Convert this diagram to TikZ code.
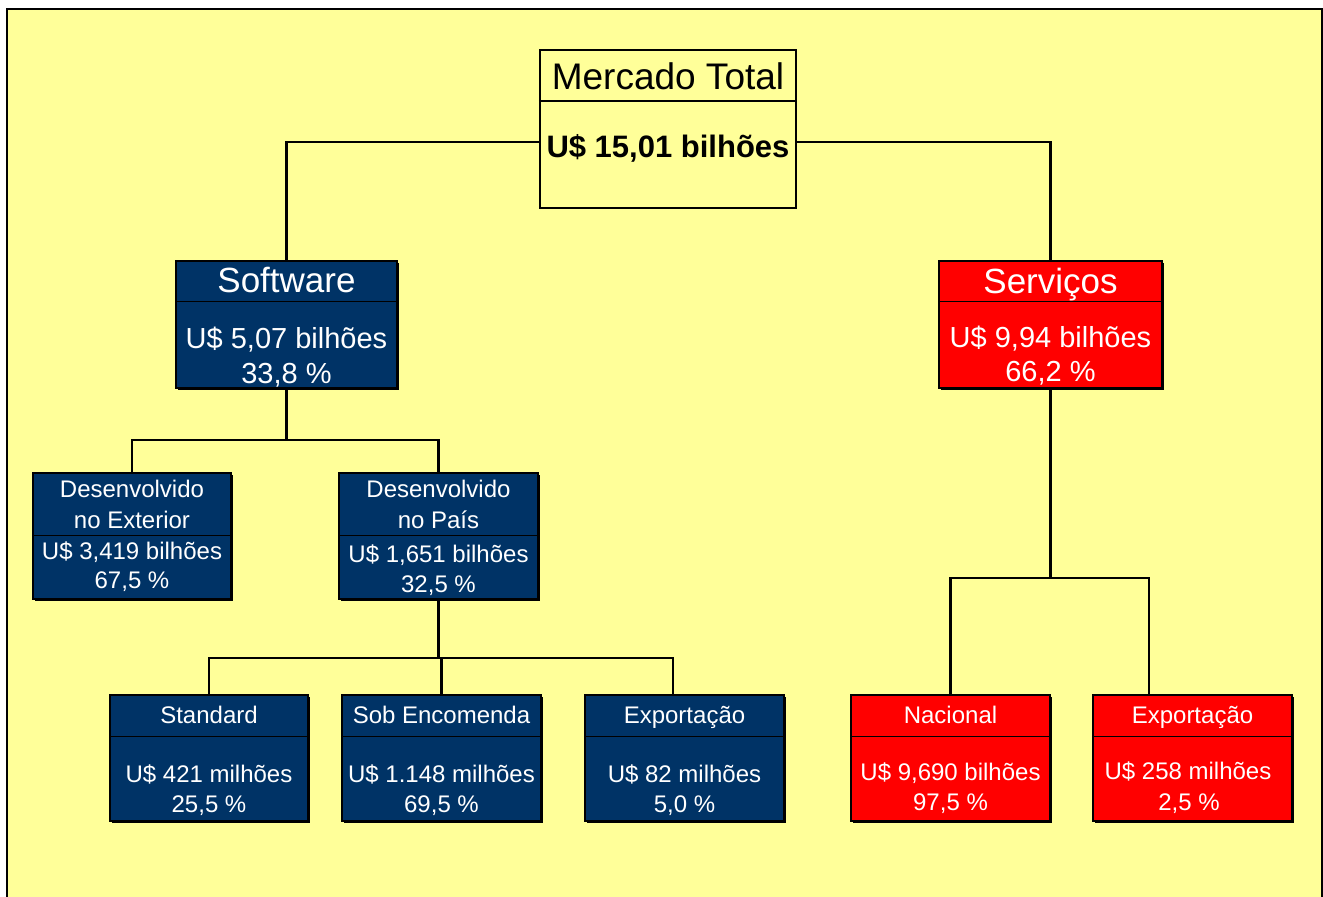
\documentclass[tikz,border=0pt]{standalone}
\usepackage{fontspec}
\setmainfont{Liberation Sans}
\usetikzlibrary{calc,shadows}
\definecolor{bg}{RGB}{255,255,153}
\definecolor{navy}{RGB}{0,51,102}
\definecolor{rd}{RGB}{255,0,0}
\begin{document}
\begin{tikzpicture}[x=1pt,y=-1pt,
  conn/.style={line width=2.5pt},
  cbox/.style={rectangle, draw=black, line width=2pt, inner sep=0pt,
    drop shadow={shadow xshift=2pt, shadow yshift=-2pt, fill=black, opacity=1}},
  navybox/.style={cbox, fill=navy},
  redbox/.style={cbox, fill=rd},
  topbox/.style={rectangle, draw=black, line width=2.5pt, inner sep=0pt, fill=bg},
  divider/.style={line width=1pt, black},
  wtxt/.style={text=white, anchor=base, inner sep=0pt},
  bigtxt/.style={wtxt, font=\fontsize{35}{40}\selectfont},
  midtxt/.style={wtxt, font=\fontsize{29}{34}\selectfont},
  smalltxt/.style={wtxt, font=\fontsize{24}{28}\selectfont}
]
\useasboundingbox (0,0) rectangle (1323,897);
\fill[white] (0,0) rectangle (1323,897);
\draw[fill=bg, line width=2.3pt] (7,9) rectangle (1322.3,910);

% boxes
\node[topbox, minimum width=256, minimum height=158] (mt) at (668,129) {};
\node[navybox, minimum width=221, minimum height=127] (sw) at (286.5,324.5) {};
\node[redbox, minimum width=223, minimum height=127] (sv) at (1050.5,324.5) {};
\node[navybox, minimum width=198, minimum height=126] (ext) at (132,536) {};
\node[navybox, minimum width=199, minimum height=126] (pais) at (438.5,536) {};
\node[navybox, minimum width=198, minimum height=126] (st) at (209,758) {};
\node[navybox, minimum width=199, minimum height=126] (sob) at (441.5,758) {};
\node[navybox, minimum width=199, minimum height=126] (xs) at (684.5,758) {};
\node[redbox, minimum width=199, minimum height=126] (nac) at (950.5,758) {};
\node[redbox, minimum width=199, minimum height=126] (xv) at (1192.5,758) {};

% dividers
\draw[line width=2pt] ($(mt.north west)+(0,52)$) -- ($(mt.north east)+(0,52)$);
\foreach \b/\d in {sw/41, sv/41, ext/63, pais/63, st/42, sob/42, xs/42, nac/42, xv/42}
  \draw[divider] ($(\b.north west)+(0,\d)$) -- ($(\b.north east)+(0,\d)$);

% texts
\node[anchor=base, inner sep=0pt, font=\fontsize{37}{42}\selectfont] (mt1) at (668,89) {Mercado Total};
\node[anchor=base, inner sep=0pt, font=\fontsize{31}{35}\selectfont\bfseries] (mt2) at (668,157) {U\$ 15,01 bilhões};

\node[bigtxt] (sw1) at (286.5,292) {Software};
\node[midtxt] (sw2) at (286.5,348) {U\$ 5,07 bilhões};
\node[midtxt] (sw3) at (286.5,383) {33,8 \%};

\node[bigtxt] (sv1) at (1050.5,293) {Serviços};
\node[midtxt] (sv2) at (1050.5,347) {U\$ 9,94 bilhões};
\node[midtxt] (sv3) at (1050.5,381) {66,2 \%};

\node[smalltxt] (ext1) at (132,497) {Desenvolvido};
\node[smalltxt] (ext2) at (132,528) {no Exterior};
\node[smalltxt] (ext3) at (132,559) {U\$ 3,419 bilhões};
\node[smalltxt] (ext4) at (132,588) {67,5 \%};

\node[smalltxt] (pa1) at (438.5,497) {Desenvolvido};
\node[smalltxt] (pa2) at (438.5,528) {no País};
\node[smalltxt] (pa3) at (438.5,562) {U\$ 1,651 bilhões};
\node[smalltxt] (pa4) at (438.5,592) {32,5 \%};

\node[smalltxt] (st1) at (209,723) {Standard};
\node[smalltxt] (st2) at (209,782) {U\$ 421 milhões};
\node[smalltxt] (st3) at (209,812) {25,5 \%};

\node[smalltxt] (sob1) at (441.5,723) {Sob Encomenda};
\node[smalltxt] (sob2) at (441.5,782) {U\$ 1.148 milhões};
\node[smalltxt] (sob3) at (441.5,812) {69,5 \%};

\node[smalltxt] (xs1) at (684.5,723) {Exportação};
\node[smalltxt] (xs2) at (684.5,782) {U\$ 82 milhões};
\node[smalltxt] (xs3) at (684.5,812) {5,0 \%};

\node[smalltxt] (nac1) at (950.5,723) {Nacional};
\node[smalltxt] (nac2) at (950.5,780) {U\$ 9,690 bilhões};
\node[smalltxt] (nac3) at (950.5,810) {97,5 \%};

\node[smalltxt] (xv1) at (1192.5,723) {Exportação};
\node[smalltxt] (xv2) at (1188,779) {U\$ 258 milhões};
\node[smalltxt] (xv3) at (1189,810) {2,5 \%};

% connectors
\coordinate (j1) at (288,440);
\coordinate (j2) at (441,658);
\coordinate (j3) at (1050,578);
\coordinate (xsin) at ($(xs.north west)+(89,0)$);
\coordinate (xvin) at ($(xv.north west)+(57,0)$);
\draw[conn] ($(mt.west)+(0,13)$) -| (sw.north);
\draw[conn] ($(mt.east)+(0,13)$) -| (sv.north);
\draw[conn] (sw.south) -- (sw.south |- j1);
\draw[conn] (ext.north) |- (pais.north |- j1) -- (pais.north);
\draw[conn] (pais.south) -- (pais.south |- j2);
\draw[conn] (st.north) |- (xsin |- j2) -- (xsin);
\draw[conn] (sob.north) -- (sob.north |- j2);
\draw[conn] (sv.south) -- (sv.south |- j3);
\draw[conn] (nac.north) |- (xvin |- j3) -- (xvin);
\end{tikzpicture}
\end{document}
